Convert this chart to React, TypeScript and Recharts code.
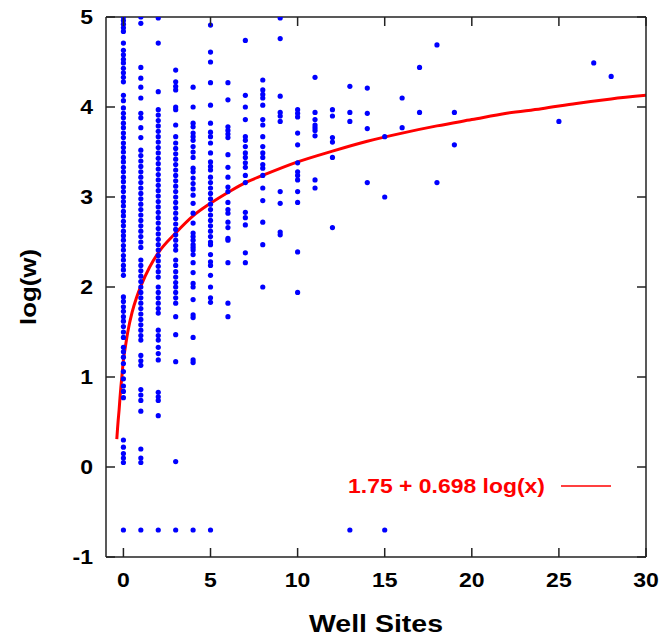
import { ComposedChart, Scatter, Line, XAxis, YAxis } from 'recharts';

const FONT = "'Liberation Sans', Arial, Helvetica, sans-serif";
const AXIS = '#222';

const xTicks = [0, 5, 10, 15, 20, 25, 30];
const yTicks = [-1, 0, 1, 2, 3, 4, 5];

// number of well sites (x) and the log(w) values seen in each column
const siteCounts = [0, 1, 2, 3, 4, 5, 6, 7, 8, 9, 10, 11, 12, 13, 14, 15, 16, 17, 18, 19, 25, 27, 28];

const logW = [
  [5.0, 4.96, 4.92, 4.88, 4.84, 4.71, 4.63, 4.58, 4.53, 4.49, 4.43, 4.38, 4.33, 4.28, 4.13, 4.07, 3.99, 3.93, 3.88, 3.82,
    3.77, 3.71, 3.66, 3.6, 3.55, 3.5, 3.44, 3.39, 3.33, 3.28, 3.22, 3.17, 3.11, 3.06, 3.0, 2.95, 2.9, 2.84, 2.79, 2.73,
    2.68, 2.62, 2.57, 2.52, 2.46, 2.41, 2.35, 2.3, 2.24, 2.19, 2.13, 1.89, 1.84, 1.78, 1.73, 1.67, 1.62, 1.56, 1.5, 1.44,
    1.33, 1.28, 1.22, 1.15, 1.06, 0.98, 0.9, 0.84, 0.77, 0.3, 0.22, 0.15, 0.1, 0.05, -0.7],
  [5.0, 4.93, 4.44, 4.32, 4.22, 4.1, 3.93, 3.88, 3.77, 3.66, 3.52, 3.46, 3.4, 3.34, 3.28, 3.22, 3.16, 3.1, 3.04, 2.98,
    2.92, 2.86, 2.8, 2.74, 2.68, 2.62, 2.56, 2.5, 2.44, 2.3, 2.24, 2.18, 2.12, 2.06, 2.0, 1.94, 1.88, 1.82, 1.76, 1.7,
    1.64, 1.58, 1.52, 1.46, 1.41, 1.24, 1.18, 1.13, 0.86, 0.8, 0.74, 0.62, 0.2, 0.1, 0.05, -0.7],
  [4.99, 4.71, 4.17, 3.97, 3.91, 3.85, 3.79, 3.73, 3.67, 3.61, 3.55, 3.49, 3.43, 3.37, 3.31, 3.25, 3.19, 3.13, 3.07, 3.01,
    2.95, 2.89, 2.83, 2.77, 2.71, 2.65, 2.59, 2.53, 2.47, 2.41, 2.35, 2.29, 2.23, 2.17, 2.11, 2.0, 1.94, 1.88, 1.82, 1.76,
    1.71, 1.52, 1.46, 1.41, 1.33, 1.26, 1.19, 0.83, 0.78, 0.74, 0.57, -0.7],
  [4.41, 4.28, 4.23, 4.19, 4.0, 3.97, 3.8, 3.67, 3.6, 3.54, 3.48, 3.42, 3.36, 3.3, 3.24, 3.18, 3.12, 3.06, 3.0, 2.94,
    2.88, 2.82, 2.76, 2.7, 2.64, 2.58, 2.52, 2.46, 2.41, 2.3, 2.24, 2.17, 2.11, 2.05, 2.0, 1.94, 1.88, 1.82, 1.67, 1.47,
    1.17, 0.06, -0.7],
  [4.22, 4.0, 3.82, 3.78, 3.71, 3.67, 3.63, 3.56, 3.5, 3.44, 3.32, 3.28, 3.21, 3.15, 3.09, 3.02, 2.93, 2.82, 2.71, 2.6,
    2.56, 2.52, 2.47, 2.44, 2.41, 2.36, 2.27, 2.16, 2.04, 2.0, 1.86, 1.69, 1.66, 1.44, 1.19, 1.16, -0.7],
  [4.91, 4.61, 4.5, 4.27, 4.02, 3.82, 3.72, 3.67, 3.6, 3.49, 3.39, 3.34, 3.3, 3.22, 3.16, 3.1, 3.04, 2.98, 2.92, 2.86,
    2.8, 2.74, 2.68, 2.62, 2.56, 2.5, 2.47, 2.36, 2.28, 2.24, 2.13, 2.0, 1.88, 1.83, -0.7],
  [4.27, 4.08, 3.78, 3.74, 3.7, 3.66, 3.47, 3.33, 3.22, 3.11, 3.06, 2.94, 2.86, 2.82, 2.72, 2.66, 2.54, 2.52, 2.27, 1.82, 1.67],
  [4.74, 4.13, 4.0, 3.86, 3.67, 3.63, 3.56, 3.49, 3.44, 3.38, 3.33, 3.24, 3.16, 2.83, 2.77, 2.69, 2.38, 2.27],
  [4.3, 4.19, 4.14, 4.1, 4.02, 3.86, 3.8, 3.67, 3.56, 3.49, 3.44, 3.36, 3.32, 3.24, 3.1, 2.96, 2.72, 2.47, 2.0],
  [4.99, 4.76, 4.12, 3.94, 3.9, 3.84, 3.06, 2.93, 2.61, 2.58],
  [3.97, 3.93, 3.89, 3.71, 3.58, 3.38, 3.28, 3.24, 3.19, 3.06, 2.94, 2.39, 1.94],
  [4.33, 3.94, 3.86, 3.8, 3.77, 3.74, 3.68, 3.19, 3.1],
  [3.97, 3.9, 3.66, 3.61, 3.44, 2.66],
  [4.23, 3.94, 3.84, -0.7],
  [4.21, 3.93, 3.76, 3.16],
  [3.67, 3.0, -0.7],
  [4.1, 3.77],
  [4.44, 3.94],
  [4.69, 3.16],
  [3.94, 3.58],
  [3.84],
  [4.49],
  [4.34],
];

// fitted curve
const fitX = [-0.38, -0.34, -0.3, -0.25, -0.2, -0.15, -0.1, -0.05, 0, 0.1, 0.25, 0.5, 0.75, 1, 1.5, 2, 3, 4, 5, 6, 7, 8,
  10, 12, 14, 16, 18, 20, 22, 24, 26, 28, 30];
const fitY = [0.31, 0.42, 0.52, 0.63, 0.76, 0.88, 0.98, 1.09, 1.19, 1.32, 1.5, 1.72, 1.88, 2.01, 2.22, 2.38, 2.6, 2.79,
  2.93, 3.05, 3.16, 3.24, 3.39, 3.51, 3.62, 3.71, 3.79, 3.86, 3.93, 3.98, 4.04, 4.09, 4.13];

const fitLabel = '1.75 + 0.698 log(x)';

const points = siteCounts.flatMap((s, i) => logW[i].map((w) => ({ x: s, y: w })));
const fitLine = fitX.map((x, i) => ({ x, y: fitY[i] }));

const stretch = (x: number) => `translate(${x},0) scale(1.15,1) translate(${-x},0)`;

function BottomTick({ x, y, payload }: any) {
  return (
    <g>
      <line x1={x} y1={y} x2={x} y2={y - 9} stroke={AXIS} strokeWidth={1.5} />
      <text x={x} y={y + 30} textAnchor="middle" fontFamily={FONT} fontWeight="bold" fontSize={20} fill="#000"
        transform={stretch(x)}>
        {payload.value}
      </text>
    </g>
  );
}

function LeftTick({ x, y, payload }: any) {
  return (
    <g>
      <line x1={x} y1={y} x2={x + 9} y2={y} stroke={AXIS} strokeWidth={1.5} />
      <text x={x - 13} y={y + 7} textAnchor="end" fontFamily={FONT} fontWeight="bold" fontSize={20} fill="#000"
        transform={stretch(x - 13)}>
        {payload.value}
      </text>
    </g>
  );
}

const TopTick = ({ x, y }: any) => <line x1={x} y1={y} x2={x} y2={y + 9} stroke={AXIS} strokeWidth={1.5} />;
const RightTick = ({ x, y }: any) => <line x1={x} y1={y} x2={x - 9} y2={y} stroke={AXIS} strokeWidth={1.5} />;

const Dot = ({ cx, cy }: any) => <circle cx={cx} cy={cy} r={2.6} fill="#0000ff" />;

export default function App() {
  return (
    <div style={{ position: 'absolute', left: 0, top: 0, width: 662, height: 638, background: '#fff' }}>
      <ComposedChart width={662} height={638} margin={{ top: 16, right: 15, bottom: 80, left: 105 }}>
        <XAxis
          type="number"
          dataKey="x"
          domain={[-1, 30]}
          ticks={xTicks}
          interval={0}
          height={1}
          tickSize={0}
          tickMargin={0}
          tickLine={false}
          tick={<BottomTick />}
          axisLine={{ stroke: AXIS, strokeWidth: 1.5 }}
          allowDataOverflow
          label={{
            content: ({ viewBox }: any) => (
              <text x={viewBox.x + viewBox.width / 2} y={viewBox.y + 75} textAnchor="middle" fontFamily={FONT}
                fontWeight="bold" fontSize={23} textLength={134} lengthAdjust="spacingAndGlyphs">
                Well Sites
              </text>
            ),
          }}
        />
        <XAxis
          xAxisId="top"
          orientation="top"
          type="number"
          dataKey="x"
          domain={[-1, 30]}
          ticks={xTicks}
          interval={0}
          height={1}
          tickSize={0}
          tickMargin={0}
          tickLine={false}
          tick={<TopTick />}
          axisLine={{ stroke: AXIS, strokeWidth: 1.5 }}
          allowDataOverflow
        />
        <YAxis
          type="number"
          dataKey="y"
          domain={[-1, 5]}
          ticks={yTicks}
          interval={0}
          width={1}
          tickSize={0}
          tickMargin={0}
          tickLine={false}
          tick={<LeftTick />}
          axisLine={{ stroke: AXIS, strokeWidth: 1.5 }}
          allowDataOverflow
          label={{
            content: ({ viewBox }: any) => {
              const cy = viewBox.y + viewBox.height / 2;
              return (
                <text x={36} y={cy} textAnchor="middle" fontFamily={FONT} fontWeight="bold" fontSize={22}
                  textLength={76} lengthAdjust="spacingAndGlyphs" transform={`rotate(-90, 36, ${cy})`}>
                  log(w)
                </text>
              );
            },
          }}
        />
        <YAxis
          yAxisId="right"
          orientation="right"
          type="number"
          domain={[-1, 5]}
          ticks={yTicks}
          interval={0}
          width={1}
          tickSize={0}
          tickMargin={0}
          tickLine={false}
          tick={<RightTick />}
          axisLine={{ stroke: AXIS, strokeWidth: 1.5 }}
          allowDataOverflow
        />
        <Scatter data={points} shape={<Dot />} isAnimationActive={false} />
        <Line
          data={fitLine}
          dataKey="y"
          type="monotone"
          stroke="#ff0000"
          strokeWidth={3}
          dot={false}
          activeDot={false}
          isAnimationActive={false}
        />
      </ComposedChart>
      <svg width={662} height={638} style={{ position: 'absolute', left: 0, top: 0, pointerEvents: 'none' }}>
        <text x={545} y={493} textAnchor="end" fontFamily={FONT} fontWeight="bold" fontSize={21} fill="#ff0000"
          textLength={197} lengthAdjust="spacingAndGlyphs">
          {fitLabel}
        </text>
        <line x1={561} y1={486} x2={611} y2={486} stroke="#ff0000" strokeWidth={1.5} />
      </svg>
    </div>
  );
}
